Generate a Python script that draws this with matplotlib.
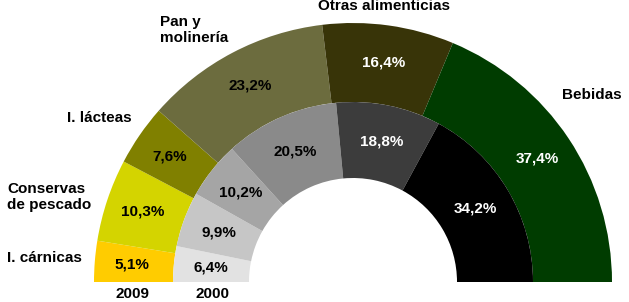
import numpy as np
import matplotlib.pyplot as plt

plt.rcParams['font.family'] = ['Liberation Sans', 'DejaVu Sans']

categories = ['I. cárnicas', 'Conservas\nde pescado', 'I. lácteas',
              'Pan y\nmolinería', 'Otras alimenticias', 'Bebidas']
values_2009 = [5.1, 10.3, 7.6, 23.2, 16.4, 37.4]
values_2000 = [6.4, 9.9, 10.2, 20.5, 18.8, 34.2]
years = ['2009', '2000']

colors_2009 = ['#ffcc00', '#d4d400', '#808000', '#6c6c3e', '#383408', '#003c00']
colors_2000 = ['#e2e2e2', '#c6c6c6', '#a5a5a5', '#8a8a8a', '#3c3c3c', '#000000']
text_2009 = ['black', 'black', 'black', 'black', 'white', 'white']
text_2000 = ['black', 'black', 'black', 'black', 'white', 'white']

W, H = 629, 302
cx, cy = 353, H - 282
r_out, r_mid, r_in = 259, 180, 104

fig = plt.figure(figsize=(W / 100, H / 100), dpi=100)
ax = fig.add_axes([0, 0, 1, 1])


def ring(vals, cols, tcols, radius, width, label_r):
    total = sum(vals)
    wedges, _ = ax.pie(vals + [total], radius=radius, center=(cx, cy),
                       colors=cols + ['white'], startangle=180, counterclock=False,
                       wedgeprops=dict(width=width, linewidth=0))
    wedges[-1].set_visible(False)
    cum = np.cumsum([0] + vals)
    for i, v in enumerate(vals):
        mid = 180 - (cum[i] + v / 2) / total * 180
        a = np.radians(mid)
        ax.text(cx + label_r * np.cos(a), cy + label_r * np.sin(a),
                f'{v:.1f}%'.replace('.', ','), ha='center', va='center',
                fontsize=11, fontweight='bold', color=tcols[i])


ring(values_2009, colors_2009, text_2009, r_out, r_out - r_mid, 222)
ring(values_2000, colors_2000, text_2000, r_mid, r_mid - r_in, 143)

# category labels
label_pos = [(7, 258), (7, 197), (67, 118), (160, 30), (318, 6), (562, 95)]
for name, (x, y) in zip(categories, label_pos):
    ax.text(x, H - y, name, ha='left', va='center', fontsize=11,
            fontweight='bold', linespacing=1.15)

for yr, x in zip(years, [133, 213]):
    ax.text(x, H - 301, yr, ha='center', va='bottom', fontsize=11, fontweight='bold')

ax.set_xlim(0, W)
ax.set_ylim(0, H)
ax.set_aspect('equal')
ax.axis('off')

fig.savefig('out.png', dpi=100)
